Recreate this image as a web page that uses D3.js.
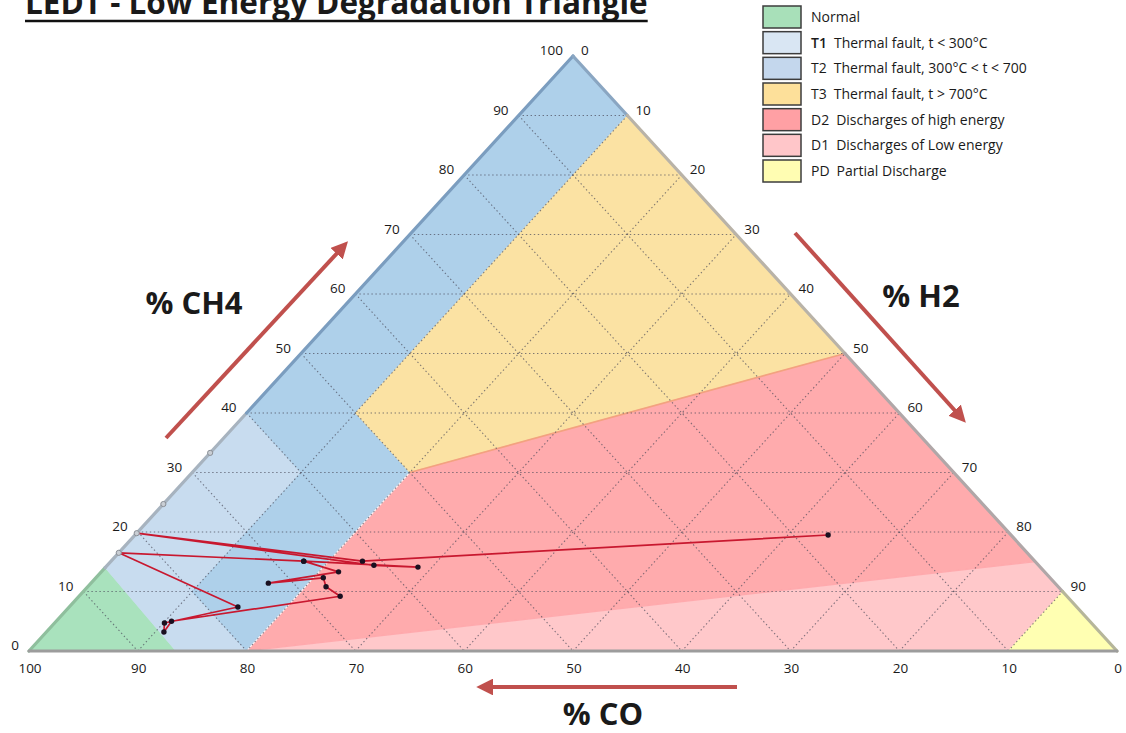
<!DOCTYPE html>
<html>
<head>
<meta charset="utf-8">
<script src="https://cdn.jsdelivr.net/npm/d3@7"></script>
<style>
  html, body { margin: 0; padding: 0; background: #ffffff; }
  svg { display: block; }
  text { font-family: "Open Sans", "Liberation Sans", sans-serif; fill: #1a1a1a; }
</style>
</head>
<body>
<svg id="chart" width="1126" height="733"></svg>
<script>
// ---- Tick values along each side (percent) ----
const tickValues = [0, 10, 20, 30, 40, 50, 60, 70, 80, 90, 100];
const rightTickValues = [0, 10, 20, 30, 40, 50, 60, 70, 80, 90];

// ---- Fault zones, each vertex given as [CO, CH4, H2] in percent ----
const normalZone = [[100, 0, 0], [86.5, 0, 13.5], [86, 14, 0]];
const t1Zone = [[60, 40, 0], [60, 30, 10], [80, 10, 10], [80, 0, 20], [86.5, 0, 13.5], [86, 14, 0]];
const t2Zone = [[0, 100, 0], [0, 90, 10], [50, 40, 10], [50, 30, 20], [80, 0, 20], [80, 10, 10], [60, 30, 10], [60, 40, 0]];
const t3Zone = [[0, 90, 10], [0, 50, 50], [50, 30, 20], [50, 40, 10]];
const d2Zone = [[80, 0, 20], [0, 15, 85], [0, 50, 50], [50, 30, 20]];
const d1Zone = [[80, 0, 20], [10, 0, 90], [0, 10, 90], [0, 15, 85]];
const pdZone = [[0, 0, 100], [10, 0, 90], [0, 10, 90]];

// ---- Legend ----
const zoneCodes = ["", "T1", "T2", "T3", "D2", "D1", "PD"];
const zoneTexts = ["Normal", "Thermal fault, t < 300°C", "Thermal fault, 300°C < t < 700",
  "Thermal fault, t > 700°C", "Discharges of high energy", "Discharges of Low energy", "Partial Discharge"];
const zoneFills = ["#a9e2bd", "#c8dcef", "#aed0ea", "#fbe2a3", "#ffabad", "#ffc8ca", "#ffffb2"];
const legendFills = ["#a8e0b9", "#d9e6f3", "#c4d7ed", "#fde09a", "#ffa0a4", "#ffc6c9", "#fffdb2"];

// ---- Gas sample history, percent of CO / CH4 / H2 ----
const sampleCO  = [16.8, 61.8, 80.2, 61.1, 57.2, 67.2, 83.5, 77.1, 85.2, 86.0, 84.4, 66.8, 67.3, 66.8, 72.3, 64.9, 67.2];
const sampleCH4 = [19.5, 15.1, 19.8, 14.4, 14.1, 15.1, 16.5,  7.4,  4.7,  3.2,  5.0,  9.2, 10.8, 12.3, 11.4, 13.3, 15.1];
const sampleH2  = [63.7, 23.1,  0.0, 24.5, 28.7, 17.7,  0.0, 15.5, 10.1, 10.8, 10.6, 24.0, 21.9, 20.9, 16.3, 21.8, 17.7];

// Extra readings sitting on the CH4 side (no H2)
const edgeCH4 = [33.3, 24.7];

// ---- Scales / ternary projection ----
const svg = d3.select("#chart");
const xScale = d3.scaleLinear().domain([0, 100]).range([29, 1117]);
const yScale = d3.scaleLinear().domain([0, 100]).range([651, 56]);
const proj = ([co, ch4, h2]) => [xScale(h2 + ch4 / 2), yScale(ch4)];
const line = d3.line();

// ---- Zones ----
const zones = [normalZone, t1Zone, t2Zone, t3Zone, d2Zone, d1Zone, pdZone];
svg.append("g").selectAll("path").data(zones).join("path")
  .attr("d", z => line(z.map(proj)) + "Z")
  .attr("fill", (z, i) => zoneFills[i])
  .attr("stroke", (z, i) => zoneFills[i])
  .attr("stroke-width", 0.8);

// soft borders between some zones
svg.append("path").attr("d", line([[0, 50, 50], [50, 30, 20]].map(proj)))
  .attr("stroke", "#f3a27f").attr("stroke-width", 1.6).attr("fill", "none");
svg.append("path").attr("d", line([[50, 30, 20], [80, 0, 20]].map(proj)))
  .attr("stroke", "#ffffff").attr("stroke-width", 1.2).attr("fill", "none").attr("opacity", 0.8);
svg.append("path").attr("d", line([[80, 0, 20], [0, 15, 85]].map(proj)))
  .attr("stroke", "#ff9ea2").attr("stroke-width", 1.2).attr("fill", "none").attr("opacity", 0.7);

// ---- Dotted grid ----
const gridVals = d3.range(10, 100, 10);
const gridSegs = [];
gridVals.forEach(v => {
  gridSegs.push([[100 - v, v, 0], [0, v, 100 - v]]);   // constant CH4
  gridSegs.push([[v, 100 - v, 0], [v, 0, 100 - v]]);   // constant CO
  gridSegs.push([[100 - v, 0, v], [0, 100 - v, v]]);   // constant H2
});
svg.append("g").selectAll("path").data(gridSegs).join("path")
  .attr("d", s => line(s.map(proj)))
  .attr("fill", "none")
  .attr("stroke", "#4a4a5a")
  .attr("stroke-width", 1.1)
  .attr("stroke-dasharray", "1.4,2.6")
  .attr("opacity", 0.7);

// ---- Triangle outline ----
const outline = [
  { s: [[100, 0, 0], [86, 14, 0]], c: "#8fbf9d" },
  { s: [[86, 14, 0], [60, 40, 0]], c: "#a7b3bf" },
  { s: [[60, 40, 0], [0, 100, 0]], c: "#7b9dbf" },
  { s: [[0, 100, 0], [0, 90, 10]], c: "#8aa6c2" },
  { s: [[0, 90, 10], [0, 50, 50]], c: "#b9b3a8" },
  { s: [[0, 50, 50], [0, 10, 90]], c: "#b0a7a8" },
  { s: [[0, 10, 90], [0, 0, 100]], c: "#b6b69a" },
  { s: [[0, 0, 100], [100, 0, 0]], c: "#9c9c9c" }
];
svg.append("g").selectAll("path").data(outline).join("path")
  .attr("d", d => line(d.s.map(proj)))
  .attr("stroke", d => d.c)
  .attr("stroke-width", 3.2)
  .attr("stroke-linecap", "round")
  .attr("fill", "none");

// ---- Tick labels ----
const tickG = svg.append("g").attr("font-size", 13.5);
tickG.selectAll("text.l").data(tickValues).join("text").attr("class", "l")
  .attr("x", v => proj([100 - v, v, 0])[0] - 10)
  .attr("y", v => proj([100 - v, v, 0])[1] - 1)
  .attr("text-anchor", "end")
  .text(v => v);
tickG.selectAll("text.r").data(rightTickValues).join("text").attr("class", "r")
  .attr("x", v => proj([0, 100 - v, v])[0] + 8)
  .attr("y", v => proj([0, 100 - v, v])[1] - 1)
  .attr("text-anchor", "start")
  .text(v => v);
tickG.selectAll("text.b").data(tickValues).join("text").attr("class", "b")
  .attr("x", v => proj([v, 0, 100 - v])[0] + 1)
  .attr("y", v => proj([v, 0, 100 - v])[1] + 22)
  .attr("text-anchor", "middle")
  .text(v => v);

// ---- Sample trajectory ----
const samples = sampleCO.map((c, i) => [c, sampleCH4[i], sampleH2[i]]);
svg.append("path")
  .attr("d", line(samples.map(proj)))
  .attr("fill", "none")
  .attr("stroke", "#c8182f")
  .attr("stroke-width", 1.7)
  .attr("stroke-linejoin", "round");

const edgePts = edgeCH4.map(v => [100 - v, v, 0]);
svg.append("g").selectAll("circle").data(edgePts.concat(samples.filter(p => p[2] === 0))).join("circle")
  .attr("cx", p => proj(p)[0]).attr("cy", p => proj(p)[1])
  .attr("r", 2.6).attr("fill", "#c9ced4").attr("stroke", "#8a8f96").attr("stroke-width", 1);
svg.append("g").selectAll("circle").data(samples.filter(p => p[2] > 0)).join("circle")
  .attr("cx", p => proj(p)[0]).attr("cy", p => proj(p)[1])
  .attr("r", 2.7).attr("fill", "#1a1020");

// ---- Direction arrows ----
const arrowColor = "#c0504d";
const defs = svg.append("defs");
defs.append("marker").attr("id", "head")
  .attr("viewBox", "0 0 10 10").attr("refX", 3).attr("refY", 5)
  .attr("markerWidth", 4.2).attr("markerHeight", 4.2)
  .attr("markerUnits", "strokeWidth").attr("orient", "auto")
  .append("path").attr("d", "M0,0 L10,5 L0,10 Z").attr("fill", arrowColor);
const arrows = [
  [[166, 438], [340, 250]],
  [[795, 233], [958, 414]],
  [[737, 687], [488, 687]]
];
svg.append("g").selectAll("path").data(arrows).join("path")
  .attr("d", d => line(d))
  .attr("stroke", arrowColor).attr("stroke-width", 4)
  .attr("fill", "none").attr("marker-end", "url(#head)");

// ---- Axis titles ----
const titles = [["% CH4", 194, 314], ["% H2", 921, 307], ["% CO", 603, 725]];
svg.append("g").selectAll("text").data(titles).join("text")
  .attr("x", d => d[1]).attr("y", d => d[2])
  .attr("text-anchor", "middle")
  .attr("font-size", 31).attr("font-weight", "bold")
  .text(d => d[0]);

// ---- Chart title (underlined) ----
const title = svg.append("text").attr("x", 25).attr("y", 14)
  .attr("font-size", 31.5).attr("font-weight", "bold")
  .text("LEDT - Low Energy Degradation Triangle");
const tb = title.node().getBBox();
svg.append("line").attr("x1", tb.x).attr("x2", tb.x + tb.width)
  .attr("y1", 21).attr("y2", 21).attr("stroke", "#111").attr("stroke-width", 2.4);

// ---- Legend ----
const legend = svg.append("g").attr("font-size", 14);
const rowY = d3.scaleLinear().domain([0, 6]).range([17, 171]);
zoneTexts.forEach((t, i) => {
  const cy = rowY(i);
  legend.append("rect").attr("x", 763).attr("y", cy - 11).attr("width", 38).attr("height", 22)
    .attr("fill", legendFills[i]).attr("stroke", "#3c3c3c").attr("stroke-width", 1.5);
  const tx = legend.append("text").attr("x", 811).attr("y", cy + 5);
  if (zoneCodes[i]) {
    tx.append("tspan").attr("font-weight", i === 1 ? "600" : "normal").text(zoneCodes[i]);
    tx.append("tspan").attr("dx", 7).text(t);
  } else {
    tx.text(t);
  }
});
</script>
</body>
</html>
